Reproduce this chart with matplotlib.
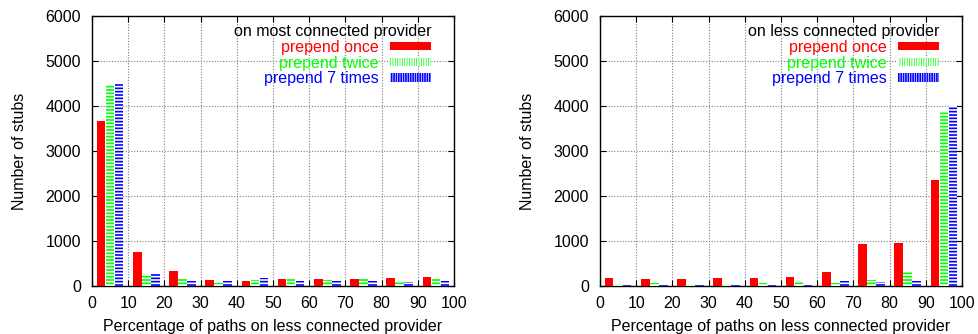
import numpy as np
import matplotlib.pyplot as plt
from matplotlib.patches import Patch

plt.rcParams['font.family'] = ['Liberation Sans', 'DejaVu Sans']
plt.rcParams['hatch.linewidth'] = 1.2

groups = [0, 10, 20, 30, 40, 50, 60, 70, 80, 90]
series_names = ['prepend once', 'prepend twice', 'prepend 7 times']

# left panel: on most connected provider
most_once = [3670, 760, 330, 130, 120, 150, 150, 155, 180, 190]
most_twice = [4470, 260, 155, 60, 135, 155, 130, 150, 110, 150]
most_7 = [4490, 270, 110, 110, 180, 110, 110, 110, 85, 110]

# right panel: on less connected provider
less_once = [170, 155, 150, 180, 180, 200, 310, 930, 960, 2360]
less_twice = [45, 70, 50, 45, 70, 110, 70, 135, 330, 3860]
less_7 = [30, 30, 20, 20, 30, 30, 120, 90, 120, 3990]

styles = [
    dict(facecolor='red', edgecolor='red', hatch=None),
    dict(facecolor='#00ff00', edgecolor='white', hatch='-----'),
    dict(facecolor='white', edgecolor='blue', hatch='-----'),
]
offsets = [2.5, 5.0, 7.5]
width = 2.4

fig = plt.figure(figsize=(9.79, 3.34), dpi=100)
ax1 = fig.add_axes([92/979, 48/334, 362/979, 270/334])
ax2 = fig.add_axes([600/979, 48/334, 362/979, 270/334])


def panel(ax, vals, title):
    x = np.array(groups)
    for v, off, st in zip(vals, offsets, styles):
        ax.bar(x + off, v, width=width, linewidth=0, zorder=3, **st)
    ax.set_xlim(0, 100)
    ax.set_ylim(0, 6000)
    ax.set_xticks(range(0, 101, 10))
    ax.set_yticks(range(0, 6001, 1000))
    ax.grid(True, linestyle=(0, (1, 1.5)), color='#808080', linewidth=0.8, zorder=0)
    ax.tick_params(direction='in', top=True, right=True, labelsize=11.5, length=4)
    ax.tick_params(axis='y', pad=8)
    ax.tick_params(axis='x', pad=7)
    for s in ax.spines.values():
        s.set_linewidth(1.0)
    ax.set_xlabel('Percentage of paths on less connected provider', fontsize=11.5, labelpad=6)
    ax.set_ylabel('Number of stubs', fontsize=11.5, labelpad=13)
    handles = [
        Patch(facecolor='red', edgecolor='red', linewidth=0),
        Patch(facecolor='#00ff00', edgecolor='white', hatch='|||||||', linewidth=0),
        Patch(facecolor='white', edgecolor='blue', hatch='|||||||', linewidth=0),
    ]
    leg = ax.legend(handles, series_names, title=title, loc='upper right',
                    bbox_to_anchor=(1 - 21/362, 1 - 6/270),
                    frameon=False, markerfirst=False, fontsize=11.5,
                    title_fontsize=11.5, alignment='right', handlelength=2.6,
                    handleheight=0.45, labelspacing=0.06, borderaxespad=0,
                    handletextpad=0.7, borderpad=0.1,
                    labelcolor=['red', '#00ff00', 'blue'])
    leg.set_zorder(5)


panel(ax1, [most_once, most_twice, most_7], 'on most connected provider')
panel(ax2, [less_once, less_twice, less_7], 'on less connected provider')

fig.savefig('out.png', dpi=100)
